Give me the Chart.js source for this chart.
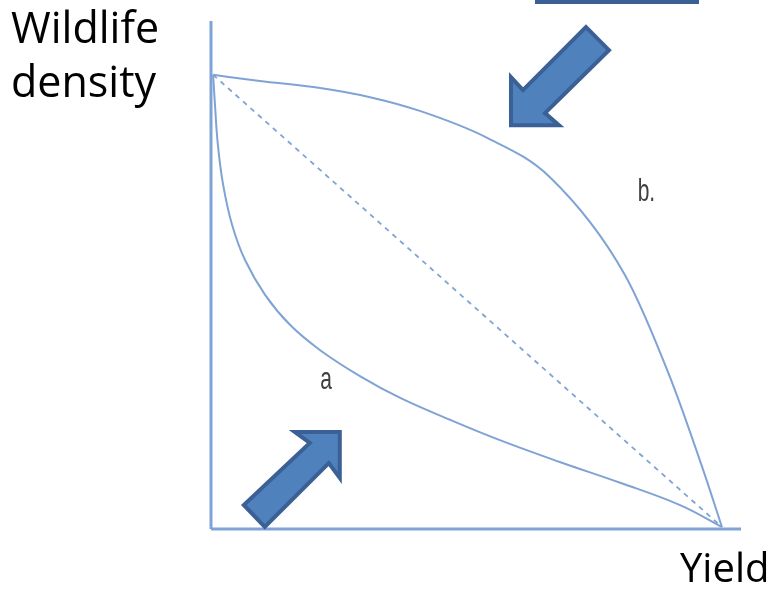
<!DOCTYPE html>
<html>
<head>
<meta charset="utf-8">
<script src="https://cdn.jsdelivr.net/npm/chart.js@4/dist/chart.umd.min.js"></script>
<style>
  html, body { margin: 0; padding: 0; background: #fff; }
  #wrap { width: 774px; height: 594px; }
</style>
</head>
<body>
<div id="wrap"><canvas id="chart"></canvas></div>
<script>
// curve b (upper, convex) : yield vs wildlife density
var curveBx = [0.4, 9.2, 20.6, 30.0, 39.4, 52.1, 63.9, 78.1, 86.6, 93.0, 96.4];
var curveBy = [89.4, 88.2, 86.8, 85.0, 82.3, 77.0, 69.3, 50.0, 29.9, 11.2, 0.4];

// curve a (lower, concave)
var curveAx = [0.4, 0.75, 1.3, 2.3, 4.0, 6.4, 10.2, 14.9, 20.6, 28.1, 35.7, 45.1, 54.5, 65.8, 77.2, 88.5, 96.4];
var curveAy = [89.4, 83.5, 75.6, 67.7, 59.8, 53.0, 46.1, 40.2, 35.2, 30.1, 25.8, 21.5, 17.5, 13.2, 9.1, 4.7, 0.4];

// straight (dashed) trade-off line
var lineX = [0.4, 96.4];
var lineY = [89.4, 0.4];

var curveLabels = [
  {text: 'a', x: 20.6, y: 27.5},
  {text: 'b.', x: 80.5, y: 64.5}
];

function toPoints(xs, ys) {
  return xs.map(function(x, i) { return {x: x, y: ys[i]}; });
}

var lineBlue = '#7fa3d5';

var decorPlugin = {
  id: 'decor',
  afterDatasetsDraw: function(chart) {
    var ctx = chart.ctx;
    var xs = chart.scales.x, ys = chart.scales.y;
    ctx.save();

    // box edge at top
    ctx.strokeStyle = '#3b6095';
    ctx.lineWidth = 4;
    ctx.strokeRect(537, -10, 160, 12);

    // arrows
    function arrow(tx, ty, shape) {
      var px = xs.getPixelForValue(tx), py = ys.getPixelForValue(ty);
      ctx.beginPath();
      shape.forEach(function(p, i) {
        if (i === 0) ctx.moveTo(px + p[0], py + p[1]);
        else ctx.lineTo(px + p[0], py + p[1]);
      });
      ctx.closePath();
      ctx.fillStyle = '#4f81bd';
      ctx.fill();
      ctx.strokeStyle = '#3b6095';
      ctx.lineWidth = 4;
      ctx.lineJoin = 'miter';
      ctx.stroke();
    }
    arrow(56.6, 79.5, [[0,0],[0,-48],[12,-35],[75,-98],[98,-75],[34,-12],[48,0]]);
    arrow(24.3, 19.1, [[0,0],[0,46],[-11,31],[-75,95],[-96,73],[-30,11],[-45,0]]);

    // axis titles
    ctx.fillStyle = '#000';
    ctx.textBaseline = 'alphabetic';
    ctx.font = '43px "Open Sans"';
    ctx.fillText('Wildlife', 11, 43);
    ctx.fillText('density', 11, 97);
    ctx.font = '40px "Open Sans"';
    ctx.fillText('Yield', 680, 582);

    // curve labels
    ctx.fillStyle = '#404040';
    ctx.font = '21px "Liberation Sans"';
    curveLabels.forEach(function(l) {
      var px = xs.getPixelForValue(l.x), py = ys.getPixelForValue(l.y);
      ctx.save();
      ctx.translate(px, py);
      ctx.scale(1, 1.45);
      ctx.fillText(l.text, 0, 0);
      ctx.restore();
    });
    ctx.restore();
  }
};

new Chart(document.getElementById('chart'), {
  type: 'scatter',
  data: {
    datasets: [
      {data: toPoints(curveBx, curveBy), showLine: true, borderColor: lineBlue, borderWidth: 2, pointRadius: 0, cubicInterpolationMode: 'monotone', clip: false},
      {data: toPoints(curveAx, curveAy), showLine: true, borderColor: lineBlue, borderWidth: 2, pointRadius: 0, tension: 0.4, clip: false},
      {data: toPoints(lineX, lineY), showLine: true, borderColor: lineBlue, borderWidth: 1.8, borderDash: [5, 5], pointRadius: 0, clip: false},
      // axes
      {data: [{x: 0, y: 0}, {x: 0, y: 100}], showLine: true, borderColor: lineBlue, borderWidth: 3, pointRadius: 0, clip: false},
      {data: [{x: 0, y: 0}, {x: 100, y: 0}], showLine: true, borderColor: lineBlue, borderWidth: 3, pointRadius: 0, clip: false}
    ]
  },
  options: {
    responsive: true,
    maintainAspectRatio: false,
    animation: false,
    layout: { padding: { left: 211, right: 33, top: 21, bottom: 65 } },
    plugins: { legend: { display: false }, tooltip: { enabled: false } },
    scales: {
      x: { type: 'linear', min: 0, max: 100, display: false },
      y: { type: 'linear', min: 0, max: 100, display: false }
    }
  },
  plugins: [decorPlugin]
});
</script>
</body>
</html>
